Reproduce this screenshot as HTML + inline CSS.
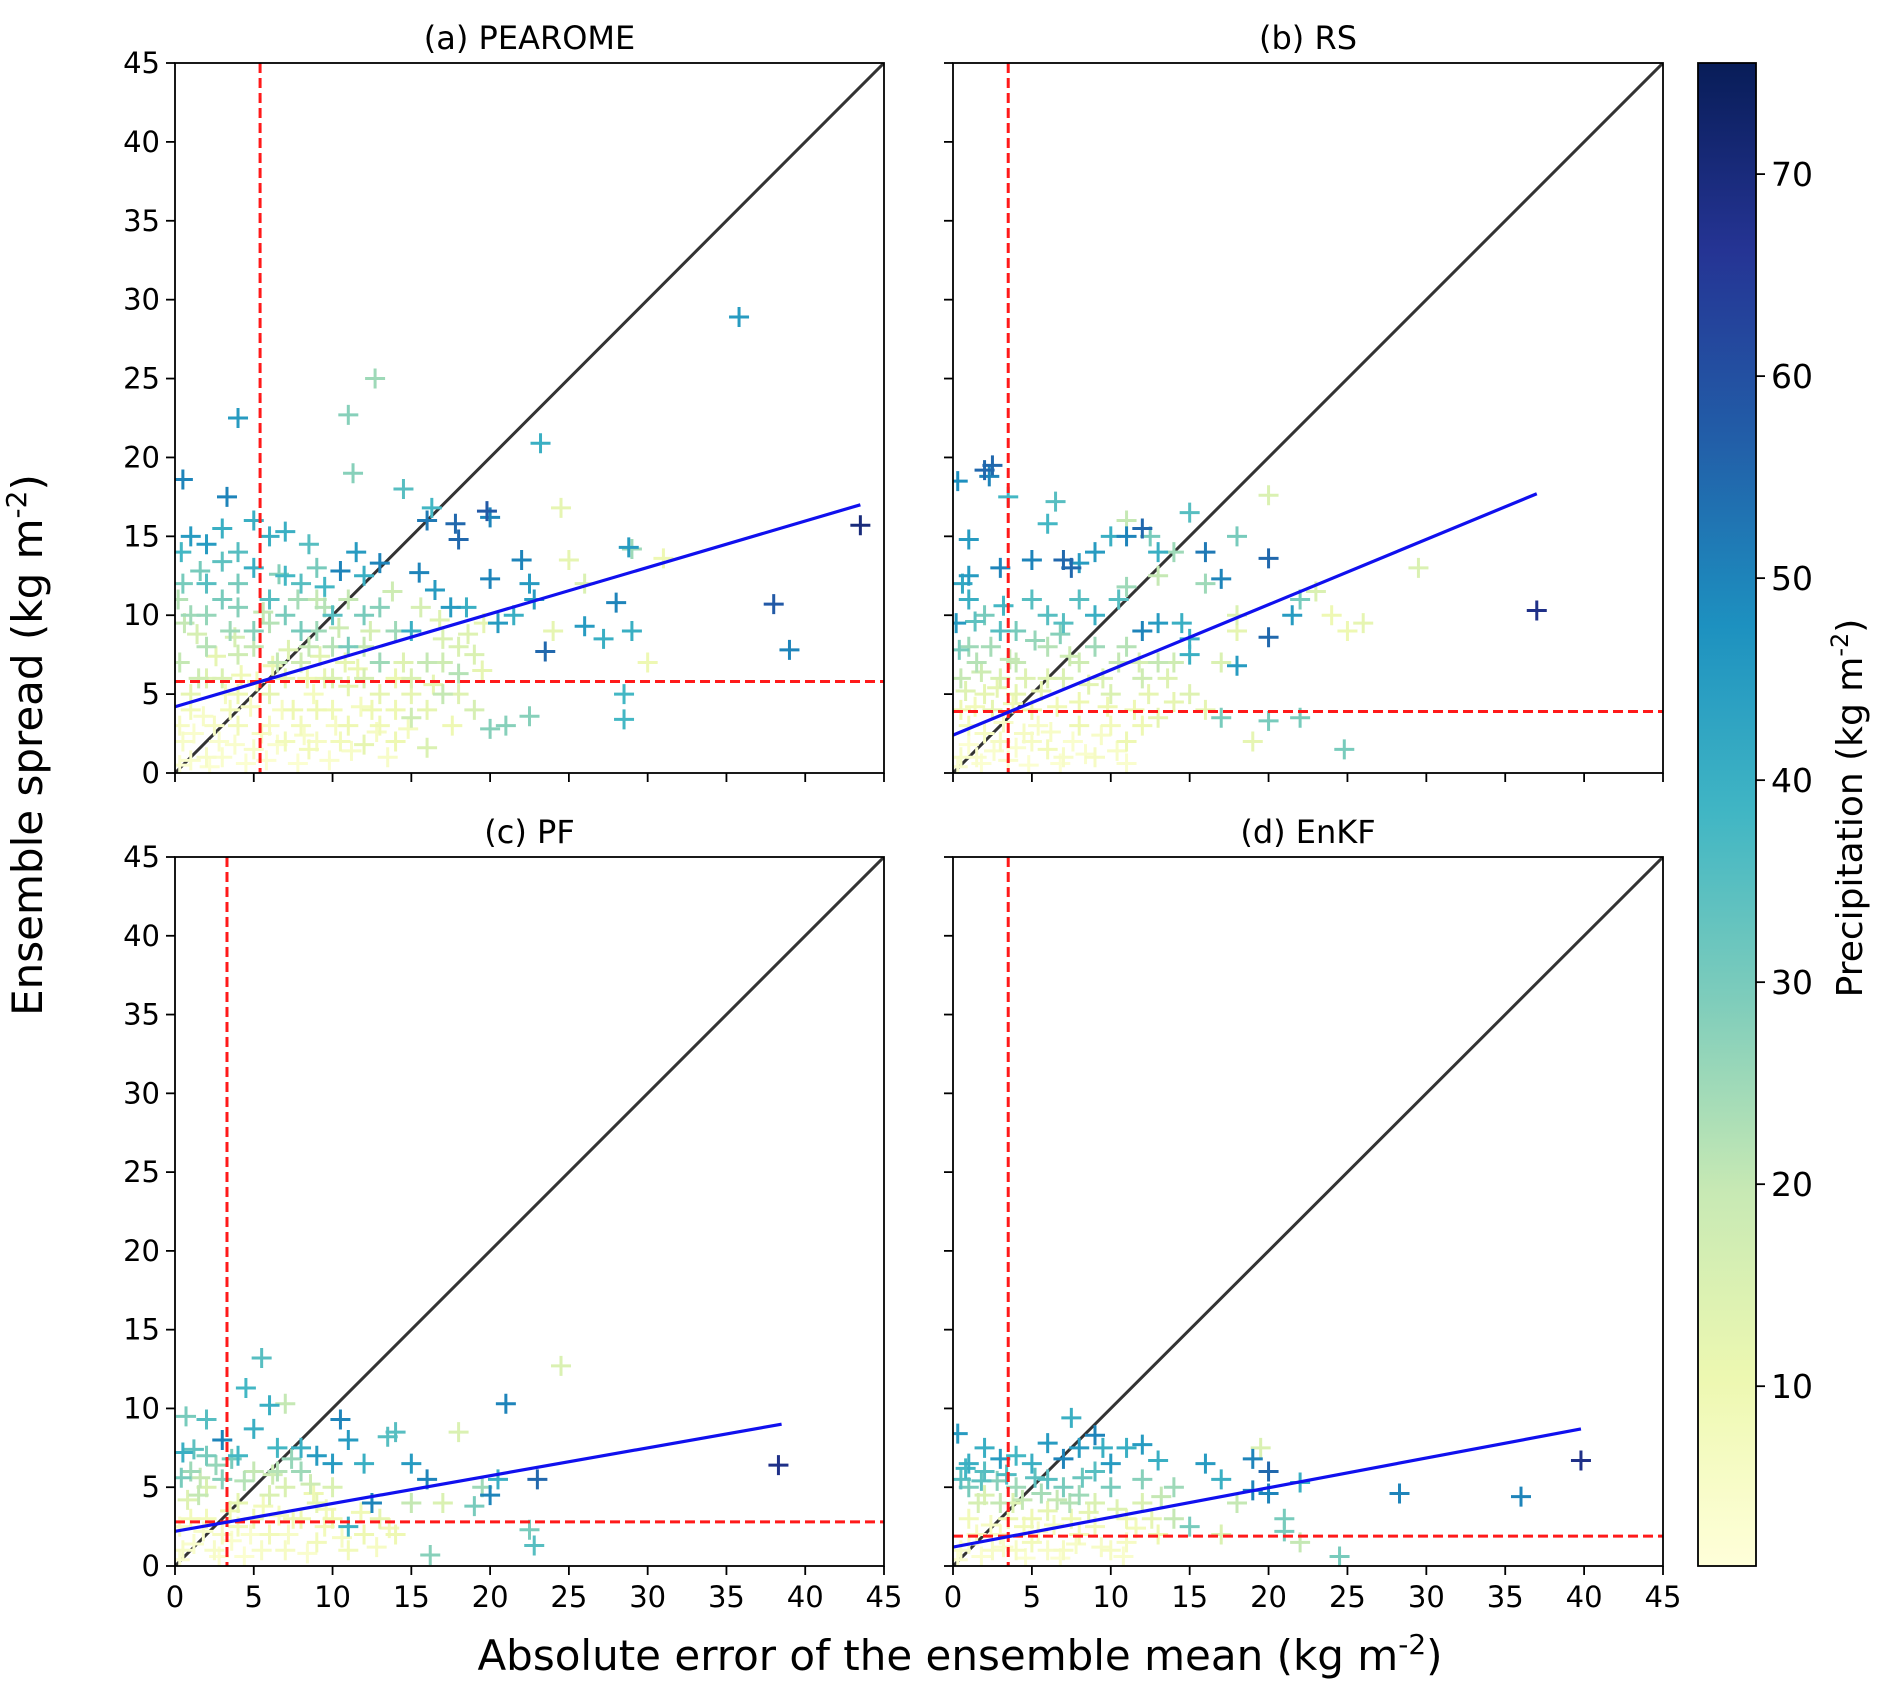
<!DOCTYPE html>
<html><head><meta charset="utf-8"><style>
body{margin:0;background:#fff;}
svg{display:block;font-family:"DejaVu Sans","Liberation Sans",sans-serif;}
</style></head><body>
<svg id="fig" width="1892" height="1698" viewBox="0 0 1892 1698">
<defs>
<linearGradient id="cbgrad" x1="0" y1="1" x2="0" y2="0">
<stop offset="0" stop-color="#ffffd9"/><stop offset="0.125" stop-color="#edf8b1"/><stop offset="0.25" stop-color="#c7e9b4"/><stop offset="0.375" stop-color="#7fcdbb"/><stop offset="0.5" stop-color="#41b6c4"/><stop offset="0.625" stop-color="#1d91c0"/><stop offset="0.75" stop-color="#225ea8"/><stop offset="0.875" stop-color="#253494"/><stop offset="1" stop-color="#081d58"/>
</linearGradient>
</defs>
<text x="42" y="745" font-size="42" text-anchor="middle" transform="rotate(-90 42 745)">Ensemble spread (kg m<tspan dy="-16" font-size="28">-2</tspan><tspan dy="16">)</tspan></text>
<text x="960" y="1670" font-size="42" text-anchor="middle">Absolute error of the ensemble mean (kg m<tspan dy="-16" font-size="28">-2</tspan><tspan dy="16">)</tspan></text>
</svg>
<script>
// ---- data ----
const xTicks=[0,5,10,15,20,25,30,35,40,45];
const yTicks=[0,5,10,15,20,25,30,35,40,45];
const cbTicks=[10,20,30,40,50,60,70];
const cbMin=1.1, cbMax=75.5;
const panelTitles=["(a) PEAROME","(b) RS","(c) PF","(d) EnKF"];
const regA=[[0,4.2],[43.5,17.0]];
const regB=[[0,2.4],[37,17.7]];
const regC=[[0,2.2],[38.5,9.0]];
const regD=[[0,1.2],[39.8,8.7]];
const redV=[5.4,3.5,3.3,3.5];
const redH=[5.8,3.9,2.8,1.9];
const ptsA=[[0.5,18.6,50],[4,22.5,45],[3.3,17.5,50],[11,22.7,28],[11.3,19,28],[12.7,25,25],[14.5,18,35],[16,16,52],[16.3,16.8,38],[17.8,15.8,55],[18,14.8,55],[19.8,16.6,58],[20,16.2,50],[23.2,20.9,40],[35.8,28.9,45],[24.5,16.8,12],[43.5,15.7,70],[38,10.7,58],[39,7.8,50],[28.8,14.3,45],[29,14.2,25],[28,10.8,50],[29,9,40],[28.5,5,38],[28.5,3.4,38],[23.5,7.7,55],[22,13.5,50],[22.5,12,45],[21.5,10,40],[22.8,11,45],[25,13.5,12],[26,9.3,45],[27.2,8.5,40],[20,12.3,50],[20.5,9.5,45],[21,3,28],[20,2.8,28],[22.5,3.6,28],[17.5,10.5,45],[18.5,10.5,40],[15.5,12.7,50],[16.5,11.6,45],[13,13.3,50],[11.5,14,45],[12,12.5,40],[10.5,12.8,50],[9.5,11.8,38],[8,12,35],[6,15,40],[5,16,40],[3,15.5,40],[1,15,45],[2,14.5,45],[4,14,35],[7,15.3,40],[8.5,14.5,35],[9,13,30],[30,7,10],[31,13.6,10],[26,12,15],[24,9,12],[19.5,6.5,12],[18,8,15],[15,9,40],[1,10,25],[2,8,22],[3,11,30],[5,9,28],[7,10,30],[9,9,25],[11,8,30],[13,7,25],[4,12,30],[6,11,35],[8,9,30],[10,10,35],[0.3,7,20],[1.5,6,18],[3.5,9,25],[6.5,7,20],[2,12,35],[5,13,40],[7,12.5,38],[0.5,12,30],[12,10,30],[14,9,25],[16,7,20],[17,8.5,15],[15,5,12],[13,10.5,28],[9.5,10.5,22],[11,11,20],[0.5,2,5],[1,4,8],[2,1,5],[3,6,15],[4,3,8],[5,8,20],[6,5,12],[7,2,8],[8,7,18],[9,4,10],[10,6,15],[11,3,10],[12,8,20],[13,5,12],[14,2,10],[15,6,15],[16,4,12],[2.5,3,6],[7.5,4,10],[8.5,1.5,8],[9.5,6,12],[10.5,2,8],[12.5,4,10],[14,4,10],[16,1.6,15],[17,7,18],[18,5,14],[19,7.5,15],[12,1.8,12],[1,0.8,4],[3,1,4],[5,1.5,5],[6,3,6],[4,5,10],[2,6,14],[1,5,12],[0.3,3,6],[3.5,4,8],[5.5,2.5,6],[7,6,12],[8,3,8],[9,2,6],[10,4,9],[11,5.5,12],[13,3,9],[14.5,7,14],[6,9.5,22],[4,7.5,18],[8.5,8,20],[10,8,22],[12,6,16],[15,3.5,18],[17,5,20],[19,4,16],[18,6.3,22],[2,10,26],[4,10.5,28],
[0.3,0.5,3],[1.2,2.5,4],[2.2,0.4,3],[2.8,2,4],[3.8,1.8,4],[4.5,0.6,3],[4.8,4.2,6],[5.8,0.8,3],[6.5,1.8,4],[6.8,4,6],[7.8,0.6,3],[8.2,2.4,5],[8.8,5,7],[9.8,0.8,4],[10.2,3,6],[11.2,1.4,5],[11.8,4.2,7],[12.8,2.6,6],[13.5,1,5],[14.8,2.8,7],[1.8,3.6,5],[3.2,5,7],[4.2,6.2,9],[5.2,5.8,8],[6.2,6.8,11],[7.2,7.8,14],[8.4,6,10],[9.2,7.4,13],[10.8,7,12],[11.6,6.6,11],[2.6,7.4,12],[1.4,8.8,16],[0.6,9.5,20],[3.8,8.6,16],[5.6,10.2,20],[7.8,11,24],[10.4,9.2,18],[12.4,9,16],[14,6,11],[16.4,5.6,12],[17.6,3,10],[18.6,8.8,14],[13.8,11.5,18],[9,11,20],[6.6,12.6,28],[0.2,11,22],[1.6,12.8,30],[3,13.4,34],[0.4,14,38],[15.6,10.5,16],[19.6,9.5,12],[16.8,9.7,14]];
const ptsB=[[0.3,18.5,48],[2,19.2,55],[2.5,19.5,55],[2.3,18.8,50],[3.5,17.5,38],[1,14.8,45],[1,12.5,45],[3,13,50],[5,13.5,50],[6.5,17.2,35],[6,15.8,38],[7,13.5,55],[7.5,13,55],[8,13.3,45],[9,14,45],[10,15,40],[11,15,50],[12,15.5,55],[12.5,15,30],[11,16,20],[13,14,40],[14,14,25],[15,16.5,35],[16,14,52],[17,12.3,50],[18,15,30],[20,17.6,15],[20,13.6,55],[16,12,25],[13,12.5,20],[11,11.8,25],[10.5,11,35],[12,9,50],[13,9.5,45],[14.5,9.5,40],[15,8.5,40],[15,7.5,40],[18,10,15],[18,9,12],[17,7,15],[18,6.8,45],[17,3.5,30],[20,8.6,55],[21.5,10,45],[22,11,30],[23,11.5,15],[24,10,10],[25,9,10],[26,9.5,12],[29.5,13,15],[37,10.3,68],[20,3.3,30],[22,3.5,30],[24.8,1.5,30],[19,2,12],[0.5,1,5],[1,3,8],[2,5,12],[3,2,6],[4,7,20],[5,4,10],[6,1.5,8],[7,6,15],[8,3,10],[9,8,25],[10,5,15],[11,2,10],[12,6,18],[13,3.5,12],[14,4.5,12],[1,8,25],[2,10,30],[3,9,35],[5,11,35],[7,9.5,35],[9,10,40],[8,11,35],[0.5,6,20],[1.5,7,22],[2.5,4,12],[4,9,30],[6,10,35],[10.5,7,20],[11.5,4,10],[1,11,40],[0.2,9.5,45],[3,6,15],[5,2,6],[6,8,22],[1.5,1,4],[3.5,0.8,4],[4.5,2.5,6],[2,2.5,6],[7,1,5],[8,4.5,10],[9,1,6],[10,3,8],[0.5,4,10],[4,5,12],[6,6,14],[8,7,18],[12,3,10],[13,7,20],[15,5,14],[16,4,12],[9.5,6,15],[11,8,22],[14,7,18],
[0.3,0.4,3],[1,1.8,3],[1.8,0.6,3],[2.6,1.4,4],[3.2,3.2,5],[4,1.6,4],[4.8,0.5,3],[5.4,3,5],[6.2,2.6,5],[6.8,0.6,3],[7.6,2,4],[8.4,1.2,4],[9.4,2.4,5],[10.4,1.4,5],[11,0.6,4],[1.4,4.2,8],[2.8,5.4,12],[3.8,4.4,9],[4.6,6,14],[5.6,5.2,12],[6.6,4.2,9],[7.4,7.4,18],[8.6,5.6,13],[9.8,4.2,10],[0.8,5.2,14],[1.8,6.4,18],[2.4,8,24],[3.6,7.2,20],[5.2,8.4,26],[6.8,8.8,28],[0.4,7.8,30],[1.4,9.6,34],[3.2,10.6,38],[0.6,12,42],[12.4,5,12],[13.6,6,14],[11.8,7,16]];
const ptsC=[[0.5,7.2,40],[0.7,9.5,30],[2,9.3,35],[3,8,50],[4.5,11.3,38],[5.5,13.2,35],[6,10.2,40],[7,10.3,20],[5,8.7,40],[4,7,38],[6.5,7.5,38],[8,7.5,40],[9,7,45],[10.5,9.3,50],[11,8,45],[10,6.5,45],[12,6.5,40],[13.5,8.2,35],[14,8.5,35],[15,6.5,45],[16,5.5,50],[18,8.5,15],[19,3.8,30],[20,4.5,50],[20.5,5.5,40],[21,10.3,50],[23,5.5,55],[22.5,2.3,30],[22.8,1.3,35],[24.5,12.7,15],[16.2,0.7,28],[19.5,5,25],[38.3,6.4,68],[15,4,20],[12.5,4,50],[10,3,10],[11,2.5,40],[13,3,12],[17,4,15],[14,2,10],[0.5,1,5],[1,3,8],[2,5,15],[3,2,6],[4,4,12],[5,6,20],[6,2,8],[7,5,15],[8,3,10],[9,1.5,8],[10,5,15],[1,6,25],[2,7,30],[3,5.5,28],[4,2.5,8],[5,3,10],[6,4.5,15],[7,1,6],[8,6,25],[9,4,12],[1.5,4.5,20],[2.5,1,5],[11,1,8],[12,2,10],[0.3,2.5,6],[3.5,3.5,10],[5.5,1,5],[7.5,3,9],[9.5,2.5,8],[6.5,6,22],[2,3,8],
[0.3,0.4,3],[1.2,1.4,4],[1.8,2.2,5],[2.8,0.6,3],[3.6,1.6,4],[4.4,0.6,3],[4.8,2,4],[5.6,3.8,8],[6.6,3.2,7],[7.2,2,5],[8.4,0.8,4],[8.8,4.6,10],[9.6,3.6,8],[10.6,1.8,6],[11.8,3.4,9],[12.8,1.2,6],[13.6,2.4,8],[0.8,4.2,14],[1.6,5.6,20],[2.6,6.4,26],[3.6,6.8,30],[4.4,5.4,22],[6.2,5.8,18],[7.4,6.8,26],[8.6,5.2,18],[0.4,5.6,30],[1.2,7.4,34]];
const ptsD=[[0.3,8.4,45],[1,6.5,40],[2,7.5,40],[3,6.8,45],[4,7,38],[5,6.5,40],[6,7.8,45],[7,6.8,50],[7.5,9.4,40],[8,7.5,45],[9,8.3,50],[9.5,7.5,40],[10,6.5,45],[11,7.5,40],[12,7.7,45],[13,6.7,40],[16,6.5,45],[17,5.5,40],[19,6.8,50],[19.5,7.5,15],[20,6,55],[19,4.8,50],[20,4.6,50],[22,5.3,40],[21,3,30],[21,2.2,30],[22,1.5,20],[24.5,0.6,30],[28.3,4.6,50],[36,4.4,50],[39.8,6.7,68],[15,2.5,30],[14,3,20],[17,2,15],[18,4,20],[0.5,1,5],[1,3,8],[2,4.5,15],[3,2,6],[4,5,25],[5,1.5,8],[6,3.5,12],[7,5,30],[8,2,8],[9,4,15],[10,1,6],[11,3,10],[1,5,30],[2,6,35],[3,4,20],[4,1,6],[5,3,10],[6,5.5,35],[7,1,6],[8,4.5,25],[12,4,15],[13,2,10],[9,6,35],[10,5,30],[0.5,5.5,35],[1.5,2,6],[2.5,1,5],[3.5,3,10],[4.5,2.5,8],[6,1,5],[7.5,3,10],[9,2.5,8],[11,1.5,6],[12,5.5,28],[14,5,25],
[0.3,0.4,3],[1,1.4,4],[1.8,0.6,3],[2.4,2.6,6],[3.2,1.2,4],[3.8,4,14],[4.6,0.5,3],[5.4,2.2,6],[6.4,2.6,7],[6.8,0.5,3],[7.8,1.4,5],[8.6,3.4,12],[9.4,1.2,5],[10.4,3.6,14],[10.8,0.6,4],[11.6,2.4,8],[1.6,4,16],[2.8,5.4,28],[4.4,4.2,20],[5.6,4.6,24],[6.6,4.2,20],[7.4,4,22],[8.2,5.6,32],[0.8,6.2,38],[1.8,5.4,34],[3.4,5.8,36],[5.2,5.6,34],[13.2,4.4,20],[12.6,3,12]];

// ---- layout ----
const panels=[
 {x0:175,x1:884,y0:63,y1:773,pts:ptsA,reg:regA,xl:false,yl:true,name:"panel-a"},
 {x0:953,x1:1663,y0:63,y1:773,pts:ptsB,reg:regB,xl:false,yl:false,name:"panel-b"},
 {x0:175,x1:884,y0:857,y1:1566,pts:ptsC,reg:regC,xl:true,yl:true,name:"panel-c"},
 {x0:953,x1:1663,y0:857,y1:1566,pts:ptsD,reg:regD,xl:true,yl:false,name:"panel-d"}];
const NS="http://www.w3.org/2000/svg";
const svg=document.getElementById('fig');
function mk(tag,attrs,parent){const e=document.createElementNS(NS,tag);for(const k in attrs)e.setAttribute(k,attrs[k]);(parent||svg).appendChild(e);return e;}
const stops=["#ffffd9","#edf8b1","#c7e9b4","#7fcdbb","#41b6c4","#1d91c0","#225ea8","#253494","#081d58"].map(h=>[parseInt(h.substr(1,2),16),parseInt(h.substr(3,2),16),parseInt(h.substr(5,2),16)]);
function cmap(v){let t=(v-cbMin)/(cbMax-cbMin);t=Math.max(0,Math.min(1,t))*(stops.length-1);const i=Math.min(Math.floor(t),stops.length-2),f=t-i;const c=stops[i].map((a,k)=>Math.round(a+(stops[i+1][k]-a)*f));return `rgb(${c[0]},${c[1]},${c[2]})`;}

panels.forEach((p,pi)=>{
 const sx=v=>p.x0+(v/45)*(p.x1-p.x0);
 const sy=v=>p.y1-(v/45)*(p.y1-p.y0);
 const g=mk('g',{});
 
 
 const clipId='clip'+pi;
 const cp=mk('clipPath',{id:clipId},g);mk('rect',{x:p.x0,y:p.y0,width:p.x1-p.x0,height:p.y1-p.y0},cp);
 const plot=mk('g',{'clip-path':`url(#${clipId})`},g);
 const diag=mk('line',{x1:sx(0),y1:sy(0),x2:sx(45),y2:sy(45),stroke:'#333','stroke-width':3},plot);
 
 
 const sorted=p.pts.slice().sort((a,b)=>a[2]-b[2]);
 sorted.forEach(d=>{
  const cx=sx(d[0]),cy=sy(d[1]),c=cmap(d[2]),h=10;
  const m=mk('path',{d:`M${cx-h},${cy}H${cx+h}M${cx},${cy-h}V${cy+h}`,stroke:c,'stroke-width':3,fill:'none'},plot);
  
  
 });
 const rv=mk('line',{x1:sx(redV[pi]),y1:p.y0,x2:sx(redV[pi]),y2:p.y1,stroke:'#ff1a1a','stroke-width':3,'stroke-dasharray':'10,5'},plot);
 
 
 const rh=mk('line',{x1:p.x0,y1:sy(redH[pi]),x2:p.x1,y2:sy(redH[pi]),stroke:'#ff1a1a','stroke-width':3,'stroke-dasharray':'10,5'},plot);
 
 
 const rl=mk('line',{x1:sx(p.reg[0][0]),y1:sy(p.reg[0][1]),x2:sx(p.reg[1][0]),y2:sy(p.reg[1][1]),stroke:'#1010ee','stroke-width':3.2},plot);
 
 
 const fr=mk('rect',{x:p.x0,y:p.y0,width:p.x1-p.x0,height:p.y1-p.y0,fill:'none',stroke:'#000','stroke-width':1.8},g);
 
 
 xTicks.forEach(t=>{
  const tk=mk('line',{x1:sx(t),y1:p.y1,x2:sx(t),y2:p.y1+9,stroke:'#000','stroke-width':1.8},g);
  
  
  if(p.xl){const tl=mk('text',{x:sx(t),y:p.y1+41,'font-size':29,'text-anchor':'middle'},g);tl.textContent=t;
   
   }
 });
 yTicks.forEach(t=>{
  const tk=mk('line',{x1:p.x0-9,y1:sy(t),x2:p.x0,y2:sy(t),stroke:'#000','stroke-width':1.8},g);
  
  
  if(p.yl){const tl=mk('text',{x:p.x0-15,y:sy(t)+10,'font-size':29,'text-anchor':'end'},g);tl.textContent=t;
   
   }
 });
 const tt=mk('text',{x:(p.x0+p.x1)/2,y:p.y0-14,'font-size':32,'text-anchor':'middle'},g);tt.textContent=panelTitles[pi];
 
 
});

// colorbar
const cb={x0:1698,x1:1756,y0:63,y1:1566};
const cby=v=>cb.y1-(v-cbMin)/(cbMax-cbMin)*(cb.y1-cb.y0);
const cbg=mk('g',{});


mk('rect',{x:cb.x0,y:cb.y0,width:cb.x1-cb.x0,height:cb.y1-cb.y0,fill:'url(#cbgrad)',stroke:'#000','stroke-width':1.8},cbg);
cbTicks.forEach(t=>{
 const tk=mk('line',{x1:cb.x1,y1:cby(t),x2:cb.x1+9,y2:cby(t),stroke:'#000','stroke-width':1.8},cbg);
 
 
 const tl=mk('text',{x:cb.x1+15,y:cby(t)+12,'font-size':33},cbg);tl.textContent=t;
 
 
});
const cl=mk('text',{x:1862,y:808,'font-size':36,'text-anchor':'middle',transform:'rotate(-90 1862 808)'},cbg);
cl.innerHTML='Precipitation (kg m<tspan dy="-14" font-size="24">-2</tspan><tspan dy="14">)</tspan>';


</script>
</body></html>
